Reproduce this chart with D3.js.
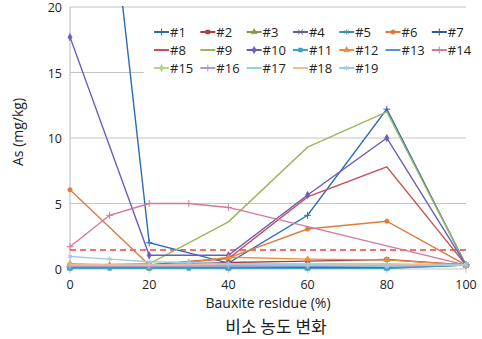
<!DOCTYPE html>
<html>
<head>
<meta charset="utf-8">
<script src="https://cdn.jsdelivr.net/npm/d3@7"></script>
<style>
  body { margin: 0; background: #fff; }
  text { font-family: "Open Sans", "Noto Sans", sans-serif; fill: #222; }
</style>
</head>
<body>
<div id="chart"></div>
<script>
// bauxite residue content (%)
const residue = [0, 10, 20, 30, 40, 60, 80, 100];
const seriesNames = ["#1","#2","#3","#4","#5","#6","#7","#8","#9","#10","#11","#12","#13","#14","#15","#16","#17","#18","#19"];
// As (mg/kg) per sample, null = not measured
const as01 = [56, null, 2.0, null, 0.45, 4.1, 12.2, 0.3];
const as02 = [0.3, null, 0.3, null, 0.5, 0.6, 0.72, 0.3];
const as03 = [0.05, null, 0.05, null, 0.05, 0.05, 0.05, 0.3];
const as04 = [0.2, null, 0.2, null, 0.25, 0.2, 0.2, 0.3];
const as05 = [0.1, null, 0.1, null, 0.1, 0.12, 0.15, 0.35];
const as06 = [6.05, null, 0.3, null, 0.85, 3.05, 3.65, 0.3];
const as07 = [0.15, null, 0.15, null, 0.15, 0.15, 0.15, 0.3];
const as08 = [0.3, null, 0.3, null, 0.8, 5.5, 7.8, 0.3];
const as09 = [0.3, null, 0.4, null, 3.6, 9.3, 12.0, 0.3];
const as10 = [17.7, null, 1.05, null, 1.05, 5.65, 10.0, 0.3];
const as11 = [0.05, 0.05, 0.05, 0.05, 0.05, 0.05, 0.05, 0.3];
const as12 = [0.4, 0.3, 0.2, 0.5, 0.9, 0.75, 0.7, 0.3];
const as13 = [0.15, null, 0.15, null, 0.15, 0.2, 0.2, 0.3];
const as14 = [1.7, 4.1, 5.0, 5.0, 4.7, null, null, 0.3];
const as15 = [0.3, null, 0.3, null, 0.3, 0.3, 0.3, 0.3];
const as16 = [0.2, null, 0.2, null, 0.2, 0.25, 0.25, 0.3];
const as17 = [0.3, null, 0.3, null, 0.35, 0.3, 0.3, 0.3];
const as18 = [0.35, null, 0.3, null, 0.4, 0.4, 0.4, 0.3];
const as19 = [0.95, 0.75, 0.55, 0.5, 0.4, 0.3, 0.2, 0.35];
const threshold = 1.45;
const yTicks = [0, 5, 10, 15, 20];
const xTicks = [0, 20, 40, 60, 80, 100];

const allValues = [as01,as02,as03,as04,as05,as06,as07,as08,as09,as10,as11,as12,as13,as14,as15,as16,as17,as18,as19];
const colors = ["#2b6cb4","#a8403e","#7f9a48","#6b5b9b","#3d8fb3","#e07a3c","#2d5c92",
                "#c9505a","#9bb75a","#6a5bbd","#3aa4c8","#f08a3c","#5b8fd0","#d5779c",
                "#b3d58b","#a99ad2","#8dd4e6","#f3bb90","#9cc9ee"];
const markers = ["plus","square","triangle","x","star","circle","plus",
                 null,null,"diamond","square","triangle",null,"plus",
                 "diamond","plus",null,null,"star"];

const W = 482, H = 339;
const margin = { top: 7, right: 16, bottom: 70, left: 70 };
const width = W - margin.left - margin.right;
const height = H - margin.top - margin.bottom;

const svg = d3.select("#chart").append("svg")
    .attr("width", W).attr("height", H)
    .append("g")
    .attr("transform", "translate(" + margin.left + "," + margin.top + ")");

const x = d3.scaleLinear().domain([0, 100]).range([0, width]);
const y = d3.scaleLinear().domain([0, 20]).range([height, 0]);

// gridlines
svg.append("g").selectAll("line").data(yTicks.filter(d => d > 0)).join("line")
    .attr("x1", 0).attr("x2", width)
    .attr("y1", d => y(d)).attr("y2", d => y(d))
    .attr("stroke", "#c4c4c4").attr("stroke-width", 1.2);

// axes lines
svg.append("line").attr("x1", 0).attr("x2", 0).attr("y1", 0).attr("y2", height)
    .attr("stroke", "#c4c4c4").attr("stroke-width", 1.2);
svg.append("line").attr("x1", 0).attr("x2", width).attr("y1", height).attr("y2", height)
    .attr("stroke", "#c4c4c4").attr("stroke-width", 1.2);
svg.append("g").selectAll("line").data(xTicks).join("line")
    .attr("x1", d => x(d)).attr("x2", d => x(d))
    .attr("y1", height).attr("y2", height + 4)
    .attr("stroke", "#c4c4c4");

// tick labels
svg.append("g").selectAll("text").data(yTicks).join("text")
    .attr("x", -8).attr("y", d => y(d)).attr("dy", "0.4em")
    .attr("text-anchor", "end").attr("font-size", 12.5).text(d => d);
svg.append("g").selectAll("text").data(xTicks).join("text")
    .attr("x", d => x(d)).attr("y", height + 20)
    .attr("text-anchor", "middle").attr("font-size", 12.5).text(d => d);

// axis titles
svg.append("text").attr("x", width / 2).attr("y", height + 39)
    .attr("text-anchor", "middle").attr("font-size", 14).text("Bauxite residue (%)");
svg.append("text").attr("transform", "translate(-47," + (height / 2 - 6) + ") rotate(-90)")
    .attr("text-anchor", "middle").attr("font-size", 14).text("As (mg/kg)");
svg.append("text").attr("x", width / 2 + 8).attr("y", height + 64)
    .attr("text-anchor", "middle").attr("font-size", 17)
    .style("font-family", "'Noto Sans CJK KR', sans-serif").text("비소 농도 변화");

// legend background hides gridline behind it
svg.append("rect").attr("x", 74).attr("y", 3).attr("width", width - 74).attr("height", 72)
    .attr("fill", "#fff");

svg.append("clipPath").attr("id", "plotClip").append("rect")
    .attr("x", -4).attr("y", -1).attr("width", width + 8).attr("height", height + 6);

// threshold
svg.append("line").attr("x1", x(0)).attr("x2", x(100))
    .attr("y1", y(threshold)).attr("y2", y(threshold))
    .attr("stroke", "#e8453c").attr("stroke-width", 1.5).attr("stroke-dasharray", "6,4");

const symbolFor = {
    plus: d3.symbolPlus || d3.symbolCross,
    x: d3.symbolX || d3.symbolCross,
    star: d3.symbolAsterisk || d3.symbolStar,
    square: d3.symbolSquare,
    triangle: d3.symbolTriangle,
    diamond: d3.symbolDiamond,
    circle: d3.symbolCircle
};
const strokeMarkers = ["plus", "x", "star"];
function drawMarker(sel, type, color) {
    if (!type) return;
    const stroke = strokeMarkers.includes(type);
    sel.append("path")
        .attr("d", d3.symbol().type(symbolFor[type]).size(stroke ? 18 : 16)())
        .attr("fill", stroke ? "none" : color)
        .attr("stroke", color).attr("stroke-width", stroke ? 1 : 0.5);
}

const line = d3.line().x(d => x(d.x)).y(d => y(d.v));
const plot = svg.append("g").attr("clip-path", "url(#plotClip)");

allValues.forEach((vals, i) => {
    const pts = residue.map((r, j) => ({ x: r, v: vals[j] })).filter(d => d.v !== null);
    const g = plot.append("g");
    g.append("path").datum(pts)
        .attr("fill", "none").attr("stroke", colors[i]).attr("stroke-width", 1.4)
        .attr("d", line);
    if (markers[i]) {
        pts.forEach(p => {
            const m = g.append("g").attr("transform", "translate(" + x(p.x) + "," + y(p.v) + ")");
            drawMarker(m, markers[i], colors[i]);
        });
    }
});

// legend
const legend = svg.append("g");
seriesNames.forEach((name, i) => {
    const col = i % 7, row = Math.floor(i / 7);
    const lx = 84 + col * 46.3, ly = 25 + row * 18;
    const item = legend.append("g").attr("transform", "translate(" + lx + "," + ly + ")");
    item.append("line").attr("x1", 0).attr("x2", 15).attr("y1", 0).attr("y2", 0)
        .attr("stroke", colors[i]).attr("stroke-width", 2);
    const m = item.append("g").attr("transform", "translate(7.5,0)");
    drawMarker(m, markers[i], colors[i]);
    item.append("text").attr("x", 16).attr("y", 0).attr("dy", "0.36em")
        .attr("font-size", 13).text(name);
});
</script>
</body>
</html>
